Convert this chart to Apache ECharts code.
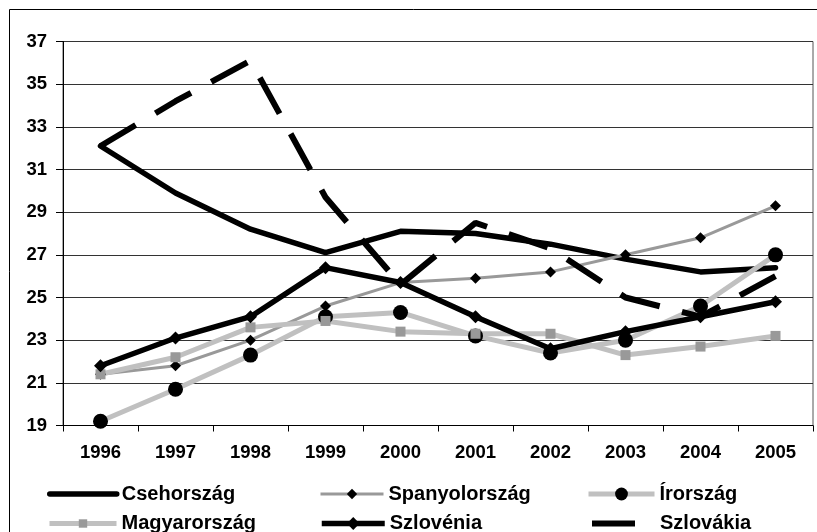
<!DOCTYPE html>
<html>
<head>
<meta charset="utf-8">
<script src="https://cdn.jsdelivr.net/npm/echarts@6/dist/echarts.min.js"></script>
<style>
html,body{margin:0;padding:0;background:#fff;}
#chart{width:817px;height:532px;}
</style>
</head>
<body>
<div id="chart"></div>
<script>
var categories = ['1996','1997','1998','1999','2000','2001','2002','2003','2004','2005'];
var csehorszag    = [32.1, 29.9, 28.2, 27.1, 28.1, 28.0, 27.5, 26.8, 26.2, 26.4];
var spanyolorszag = [21.4, 21.8, 23.0, 24.6, 25.7, 25.9, 26.2, 27.0, 27.8, 29.3];
var irorszag      = [19.2, 20.7, 22.3, 24.1, 24.3, 23.2, 22.4, 23.0, 24.6, 27.0];
var magyarorszag  = [21.4, 22.2, 23.6, 23.9, 23.4, 23.3, 23.3, 22.3, 22.7, 23.2];
var szlovenia     = [21.8, 23.1, 24.1, 26.4, 25.7, 24.1, 22.6, 23.4, 24.1, 24.8];
var szlovakia     = [32.1, 34.2, 36.1, 29.7, 25.6, 28.5, 27.3, 25.0, 24.1, 26.0];
var yMin = 19, yMax = 37, yStep = 2;

var FONT = '"Liberation Sans", Arial, sans-serif';
var chart = echarts.init(document.getElementById('chart'), null, {renderer: 'canvas'});

function legendBox(item, left, top, itemWidth, itemHeight, lineWidth) {
  return {
    data: [item], left: left, top: top, padding: 0,
    itemWidth: itemWidth, itemHeight: itemHeight,
    selectedMode: false,
    lineStyle: {width: lineWidth},
    textStyle: {fontFamily: FONT, fontWeight: 'bold', fontSize: 20, color: '#000'}
  };
}

var option = {
  backgroundColor: '#fff',
  animation: false,
  graphic: [{
    type: 'rect', silent: true,
    shape: {x: 9.5, y: 9.5, width: 900, height: 900},
    style: {fill: 'none', stroke: '#000', lineWidth: 1}
  }],
  grid: {left: 63, top: 41.5, width: 750, height: 384, show: true, borderColor: '#555', borderWidth: 1},
  legend: [
    legendBox({name: 'Csehország', itemStyle: {opacity: 0}}, 47, 484, 67, 14, 5.5),
    legendBox('Spanyolország', 319, 484, 63, 13, 3),
    legendBox('Írország', 586, 484, 66, 16, 5),
    legendBox('Magyarország', 47, 513.5, 67, 10.5, 5),
    legendBox('Szlovénia', 319, 513.5, 63, 16, 5.5),
    legendBox({name: 'Szlovákia', itemStyle: {opacity: 0}, lineStyle: {type: [43, 40], cap: 'butt'}}, 589, 513.5, 63, 14, 6)
  ],
  xAxis: {
    type: 'category', data: categories, boundaryGap: true,
    axisLine: {show: true, lineStyle: {color: '#000', width: 1}},
    axisTick: {show: true, length: 6, lineStyle: {color: '#000'}},
    axisLabel: {fontFamily: FONT, fontWeight: 'bold', fontSize: 18.5, color: '#000', margin: 18},
    splitLine: {show: false}
  },
  yAxis: {
    type: 'value', min: yMin, max: yMax, interval: yStep,
    axisLine: {show: true, lineStyle: {color: '#000', width: 1}},
    axisTick: {show: true, length: 7, lineStyle: {color: '#000'}},
    axisLabel: {fontFamily: FONT, fontWeight: 'bold', fontSize: 18.5, color: '#000', margin: 16},
    splitLine: {show: true, lineStyle: {color: '#333', width: 1}}
  },
  series: [
    {name: 'Csehország', type: 'line', data: csehorszag, symbol: 'none',
     lineStyle: {color: '#000', width: 5.5, cap: 'round'}, itemStyle: {color: '#000'}},
    {name: 'Spanyolország', type: 'line', data: spanyolorszag, symbol: 'diamond', symbolSize: 11,
     lineStyle: {color: '#999', width: 3}, itemStyle: {color: '#000'}},
    {name: 'Írország', type: 'line', data: irorszag, symbol: 'circle', symbolSize: 15,
     lineStyle: {color: '#c0c0c0', width: 5}, itemStyle: {color: '#000'}},
    {name: 'Magyarország', type: 'line', data: magyarorszag, symbol: 'rect', symbolSize: 10,
     lineStyle: {color: '#c0c0c0', width: 5}, itemStyle: {color: '#999'}},
    {name: 'Szlovénia', type: 'line', data: szlovenia, symbol: 'diamond', symbolSize: 13,
     lineStyle: {color: '#000', width: 5.5}, itemStyle: {color: '#000'}},
    {name: 'Szlovákia', type: 'line', data: szlovakia, symbol: 'none',
     lineStyle: {color: '#000', width: 6, type: [41, 23]}, itemStyle: {color: '#000'}}
  ]
};
chart.setOption(option);
</script>
</body>
</html>
